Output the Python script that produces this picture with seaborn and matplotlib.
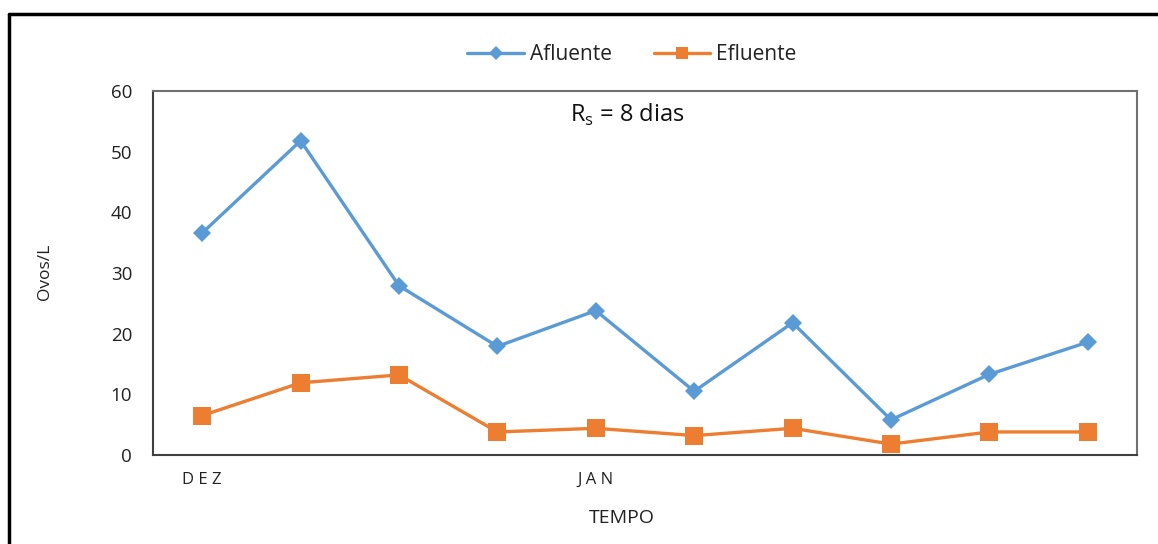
import matplotlib
matplotlib.use("Agg")
import matplotlib.pyplot as plt
from matplotlib.lines import Line2D
import seaborn as sns
import pandas as pd

# Sampling sequence (10 collections) and egg counts per litre
sample_idx = [0, 1, 2, 3, 4, 5, 6, 7, 8, 9]
afluente = [36.6, 51.8, 27.9, 17.9, 23.8, 10.5, 21.8, 5.8, 13.3, 18.6]
efluente = [6.5, 11.9, 13.2, 3.8, 4.4, 3.2, 4.4, 1.8, 3.8, 3.8]
tick_labels = ["D E Z", "", "", "", "J A N", "", "", "", "", ""]
series_names = ["Afluente", "Efluente"]
colors = ["#5B9BD5", "#ED7D31"]

df = pd.DataFrame({
    "x": sample_idx * 2,
    "valor": afluente + efluente,
    "serie": [series_names[0]] * len(afluente) + [series_names[1]] * len(efluente),
})

sns.set_theme(style="white")
plt.rcParams["font.family"] = ["Open Sans", "DejaVu Sans"]

W, H = 1158, 544
fig = plt.figure(figsize=(W / 100, H / 100), dpi=100)
ax = fig.add_axes([153 / W, 1 - 455 / H, (1137 - 153) / W, (455 - 91) / H])

sns.lineplot(
    data=df, x="x", y="valor", hue="serie", style="serie",
    palette=colors, markers={"Afluente": "D", "Efluente": "s"},
    dashes=False, linewidth=2.4, ax=ax, legend=False,
    markeredgewidth=0,
)
for ln, ms in zip(ax.lines, [9.5, 13]):
    ln.set_markersize(ms)

ax.set_xlim(-0.5, 9.5)
ax.set_ylim(0, 60)
ax.set_yticks(range(0, 61, 10))
ax.set_xticks(sample_idx)
ax.set_xticklabels(tick_labels)
ax.tick_params(axis="both", length=0, colors="#222222")
ax.tick_params(axis="y", pad=15, labelsize=13.5)
ax.tick_params(axis="x", pad=12, labelsize=12)

for side in ["left", "bottom"]:
    ax.spines[side].set_color("#404040")
    ax.spines[side].set_linewidth(1.5)
for side in ["top", "right"]:
    ax.spines[side].set_color("#707070")
    ax.spines[side].set_linewidth(1.5)

ax.set_xlabel("TEMPO", fontsize=14, color="#222222")
ax.set_ylabel("Ovos/L", fontsize=12.5, color="#222222")
ax.xaxis.set_label_coords((622 - 153) / 984, (455 - 518) / 364)
ax.yaxis.set_label_coords((45 - 153) / 984, (455 - 272) / 364)
ax.xaxis.label.set_va("center")
ax.yaxis.label.set_va("center")

ax.text((627 - 153) / 984, (455 - 115) / 364, r"R$_\mathregular{s}$ = 8 dias",
        transform=ax.transAxes, ha="center", va="center", fontsize=17, color="#111111")

handles = [
    Line2D([], [], color=colors[0], marker="D", markersize=7, linewidth=2.4, markeredgewidth=0),
    Line2D([], [], color=colors[1], marker="s", markersize=9, linewidth=2.4, markeredgewidth=0),
]
fig.legend(handles, series_names, loc="center", bbox_to_anchor=(632 / W, 1 - 55 / H),
           ncol=2, frameon=False, fontsize=15, handlelength=2.7, columnspacing=2.0,
           handletextpad=0.3, labelcolor="#222222")

# outer frame (left and top edges)
fig.add_artist(Line2D([9 / W, 9 / W], [0, 1 - 14 / H], color="black", linewidth=2.5,
                      transform=fig.transFigure))
fig.add_artist(Line2D([9 / W, 1], [1 - 14 / H, 1 - 14 / H], color="black", linewidth=2.5,
                      transform=fig.transFigure))

fig.savefig("out.png", dpi=100)
